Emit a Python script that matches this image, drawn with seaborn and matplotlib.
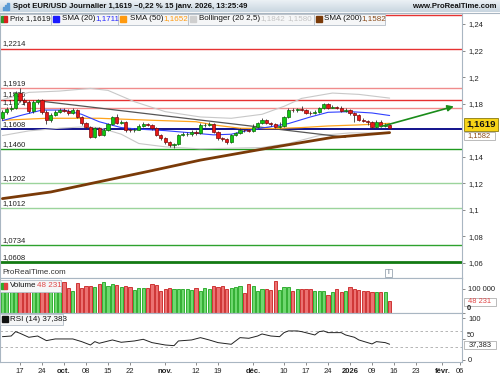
import numpy as np
import pandas as pd
import seaborn as sns
import matplotlib.pyplot as plt
from matplotlib.patches import Rectangle
from matplotlib import font_manager

# ---- data ----
# daily candles, 11 sept. 2025 -> 15 janv. 2026 (no quote on 25 dec / 1 jan)
days = pd.bdate_range("2025-09-11", "2026-01-15")
days = days[~days.isin(pd.to_datetime(["2025-12-25", "2026-01-01"]))]
future = pd.bdate_range("2026-01-16", "2026-02-10")
calendar = days.append(future)

first_open = 1.1692
closes = [1.1737, 1.1758, 1.1765, 1.1878, 1.1828, 1.1815, 1.1745, 1.1815, 1.1828, 1.1740,
          1.1677, 1.1715, 1.1740, 1.1752, 1.1745, 1.1730, 1.1752, 1.1702, 1.1652, 1.1627,
          1.1552, 1.1615, 1.1564, 1.1602, 1.1645, 1.1697, 1.1652, 1.1664, 1.1602, 1.1600,
          1.1604, 1.1634, 1.1645, 1.1643, 1.1615, 1.1564, 1.1539, 1.1514, 1.1489, 1.1494,
          1.1564, 1.1570, 1.1572, 1.1589, 1.1577, 1.1640, 1.1642, 1.1648, 1.1589, 1.1539,
          1.1532, 1.1514, 1.1564, 1.1577, 1.1602, 1.1600, 1.1595, 1.1627, 1.1652, 1.1677,
          1.1652, 1.1645, 1.1627, 1.1634, 1.1702, 1.1752, 1.1750, 1.1758, 1.1752, 1.1730,
          1.1728, 1.1740, 1.1765, 1.1795, 1.1770, 1.1777, 1.1770, 1.1745, 1.1752, 1.1727,
          1.1715, 1.1677, 1.1670, 1.1660, 1.1627, 1.1664, 1.1634, 1.1640, 1.1619]
highs = [1.1755, 1.1772, 1.1790, 1.1895, 1.1918, 1.1845, 1.1830, 1.1825, 1.1835, 1.1835,
         1.1752, 1.1730, 1.1755, 1.1768, 1.1765, 1.1760, 1.1765, 1.1760, 1.1710, 1.1665,
         1.1635, 1.1625, 1.1628, 1.1615, 1.1655, 1.1710, 1.1725, 1.1680, 1.1670, 1.1615,
         1.1615, 1.1645, 1.1665, 1.1658, 1.1650, 1.1622, 1.1575, 1.1548, 1.1522, 1.1505,
         1.1572, 1.1585, 1.1590, 1.1598, 1.1605, 1.1655, 1.1655, 1.1660, 1.1655, 1.1595,
         1.1550, 1.1540, 1.1572, 1.1590, 1.1615, 1.1612, 1.1610, 1.1648, 1.1665, 1.1690,
         1.1685, 1.1665, 1.1655, 1.1660, 1.1710, 1.1765, 1.1768, 1.1770, 1.1780, 1.1760,
         1.1745, 1.1752, 1.1775, 1.1805, 1.1802, 1.1790, 1.1785, 1.1780, 1.1765, 1.1760,
         1.1735, 1.1722, 1.1690, 1.1675, 1.1668, 1.1680, 1.1675, 1.1652, 1.1645]
lows = [1.1680, 1.1725, 1.1745, 1.1760, 1.1815, 1.1790, 1.1728, 1.1732, 1.1800, 1.1725,
        1.1650, 1.1665, 1.1705, 1.1730, 1.1735, 1.1715, 1.1720, 1.1690, 1.1640, 1.1610,
        1.1540, 1.1545, 1.1555, 1.1555, 1.1595, 1.1640, 1.1645, 1.1645, 1.1590, 1.1590,
        1.1590, 1.1598, 1.1625, 1.1630, 1.1605, 1.1555, 1.1530, 1.1500, 1.1470, 1.1468,
        1.1488, 1.1555, 1.1560, 1.1560, 1.1565, 1.1570, 1.1625, 1.1630, 1.1580, 1.1530,
        1.1520, 1.1500, 1.1505, 1.1555, 1.1570, 1.1588, 1.1585, 1.1590, 1.1620, 1.1645,
        1.1645, 1.1635, 1.1620, 1.1620, 1.1628, 1.1695, 1.1738, 1.1740, 1.1742, 1.1722,
        1.1718, 1.1720, 1.1732, 1.1760, 1.1762, 1.1765, 1.1760, 1.1738, 1.1735, 1.1715,
        1.1660, 1.1668, 1.1660, 1.1640, 1.1618, 1.1620, 1.1625, 1.1628, 1.1610]
volumes = [94.6, 97.4, 98.8, 97.4, 101.5, 100.1, 94.6, 101.5, 98.8, 108.5,
           97.4, 97.4, 101.5, 101.5, 126.5, 101.5, 91.8, 125.1, 101.5, 112.6,
           112.6, 105.7, 118.2, 126.5, 112.6, 118.2, 115.4, 105.7, 112.6, 105.7,
           94.6, 101.5, 104.3, 101.5, 118.2, 115.4, 91.8, 97.4, 101.5, 97.4,
           97.4, 97.4, 97.4, 94.6, 101.5, 90.4, 101.5, 97.4, 111.3, 108.5,
           111.3, 97.4, 101.5, 108.5, 111.3, 80.7, 119.6, 111.3, 91.8, 97.4,
           97.4, 94.6, 132.1, 94.6, 105.7, 105.7, 91.8, 97.4, 98.8, 97.4,
           97.4, 91.8, 90.4, 91.8, 73.8, 84.9, 98.8, 87.6, 91.8, 108.5,
           98.8, 94.6, 90.4, 90.4, 84.9, 84.9, 84.9, 84.9, 48.231]  # thousands

# indicator lines (bar index, value)
sma20_x = [0, 4, 9, 14, 18, 22, 27, 31, 37, 43, 48, 52, 56, 61, 65, 70, 74, 79, 84, 88]
sma20_y = [1.1672, 1.1710, 1.1752, 1.1752, 1.1720, 1.1664, 1.1620, 1.1608, 1.1597, 1.1580,
           1.1565, 1.1570, 1.1600, 1.1627, 1.1650, 1.1700, 1.1735, 1.1740, 1.1730, 1.1711]
sma50_x = [0, 10, 22, 34, 44, 48, 54, 61, 68, 74, 81, 88]
sma50_y = [1.1675, 1.1690, 1.1690, 1.1675, 1.1664, 1.1640, 1.1615, 1.1612, 1.1620, 1.1632,
           1.1640, 1.1652]
sma200_x = [0, 11, 22, 34, 45, 60, 75, 88]
sma200_y = [1.1085, 1.1135, 1.1212, 1.1296, 1.1375, 1.1463, 1.1546, 1.1582]
boll_up_x = [0, 6, 13, 20, 24, 30, 37, 45, 52, 59, 64, 68, 75, 81, 88]
boll_up_y = [1.1830, 1.1885, 1.1895, 1.1915, 1.1900, 1.1815, 1.1740, 1.1700, 1.1690, 1.1720,
             1.1780, 1.1840, 1.1880, 1.1870, 1.1842]
boll_lo_x = [0, 6, 13, 18, 22, 27, 31, 37, 45, 52, 59, 65, 72, 79, 88]
boll_lo_y = [1.1560, 1.1595, 1.1615, 1.1625, 1.1620, 1.1570, 1.1500, 1.1475, 1.1460, 1.1465,
             1.1470, 1.1500, 1.1560, 1.1580, 1.1580]
rsi_x = [0, 2, 3, 4, 6, 8, 10, 12, 16, 18, 20, 21, 22, 25, 27, 30, 32, 34, 37, 39, 40, 43,
         45, 47, 49, 52, 54, 56, 58, 59, 61, 63, 64, 65, 67, 68, 71, 72, 73, 74, 77, 78, 80,
         81, 84, 85, 87, 88]
rsi_y = [55.6, 57.2, 67.7, 63.7, 54.1, 57.2, 46.1, 50.1, 50.1, 43.7, 35.6, 43.7, 39.7, 47.7,
         42.1, 45.3, 49.3, 41.3, 35.6, 34.0, 45.3, 47.7, 53.3, 47.7, 41.3, 37.3, 53.3, 51.7,
         57.2, 62.1, 57.2, 55.6, 65.3, 69.4, 69.4, 67.7, 59.7, 67.7, 69.4, 65.3, 65.3, 59.7,
         54.1, 47.7, 38.1, 43.7, 41.3, 37.4]

trend_x = [8, 78]
trend_y = [1.1822, 1.1547]
arrow_from = (85.4, 1.1622)
arrow_to = (103.2, 1.1785)

levels = [1.2466, 1.2214, 1.1919, 1.1830, 1.1771, 1.1608, 1.1460, 1.1202, 1.1012, 1.0734, 1.0608]
level_colors = ["#e63232", "#e63232", "#f08c8c", "#e63232", "#f08c8c", "#12128c",
                "#1f9a1f", "#9cd49c", "#9cd49c", "#2ea22e", "#137a13"]

tick_dates = ["2025-09-17", "2025-09-24", "2025-10-01", "2025-10-08", "2025-10-15",
              "2025-10-22", "2025-11-03", "2025-11-12", "2025-11-19", "2025-12-01",
              "2025-12-10", "2025-12-17", "2025-12-24", "2026-01-02", "2026-01-09",
              "2026-01-16", "2026-01-23", "2026-02-02", "2026-02-06"]
tick_labels = ["17", "24", "oct.", "08", "15", "22", "nov.", "12", "19", "déc.",
               "10", "17", "24", "2026", "09", "16", "23", "févr.", "06"]
bold_ticks = {"oct.", "nov.", "déc.", "2026", "févr."}

# ---- style ----
sns.set_theme(style="white")
names = {f.name for f in font_manager.fontManager.ttflist}
FONT = "Liberation Sans Narrow" if "Liberation Sans Narrow" in names else "Liberation Sans"
plt.rcParams["font.family"] = [FONT, "DejaVu Sans"]

W, H = 500, 375
fig = plt.figure(figsize=(5, 3.75), dpi=100)


def rect(x0, y0, x1, y1):
    return [x0 / W, 1 - y1 / H, (x1 - x0) / W, (y1 - y0) / H]


ax = fig.add_axes(rect(0, 13, 462, 278))
axv = fig.add_axes(rect(0, 278, 462, 313), sharex=ax)
axr = fig.add_axes(rect(0, 313, 462, 362), sharex=ax)

n = len(closes)
idx = np.arange(n)
opens = [first_open] + closes[:-1]
up = [c >= o for o, c in zip(opens, closes)]

# ---- price panel ----
for lv, col in zip(levels, level_colors):
    lw = 2.0 if lv == 1.0608 else (1.4 if lv == 1.1608 else 1.0)
    ax.axhline(lv, color=col, lw=lw, zorder=1)
    if lv < 1.24:
        ax.text(0.006, lv + 0.0009, f"{lv:.4f}".replace(".", ","), transform=ax.get_yaxis_transform(),
                fontsize=5.5, color="#222222", va="bottom", ha="left", zorder=2)

sns.lineplot(x=boll_up_x, y=boll_up_y, ax=ax, color="#c8c8c8", lw=0.8, zorder=2)
sns.lineplot(x=boll_lo_x, y=boll_lo_y, ax=ax, color="#c8c8c8", lw=0.8, zorder=2)
sns.lineplot(x=trend_x, y=trend_y, ax=ax, color="#555555", lw=0.9, zorder=2)
sns.lineplot(x=sma50_x, y=sma50_y, ax=ax, color="#ffa41c", lw=0.9, zorder=3)
sns.lineplot(x=sma20_x, y=sma20_y, ax=ax, color="#3040ff", lw=0.8, zorder=3)
sns.lineplot(x=sma200_x, y=sma200_y, ax=ax, color="#7a3a08", lw=2.0, zorder=3)

ax.vlines(idx, lows, highs, color="#333333", lw=0.6, zorder=4)
body_lo = [min(o, c) for o, c in zip(opens, closes)]
body_h = [max(abs(c - o), 0.0003) for o, c in zip(opens, closes)]
ax.bar(idx, body_h, bottom=body_lo, width=0.75,
       color=["#12c812" if u else "#e81818" for u in up],
       edgecolor=["#0a6a0a" if u else "#7a0a0a" for u in up], lw=0.5, zorder=5)

ax.annotate("", xy=arrow_to, xytext=arrow_from,
            arrowprops=dict(arrowstyle="-|>", color="#1a8c1a", lw=1.2, mutation_scale=9), zorder=6)

ax.set_xlim(-0.55, 104.45)
ax.set_ylim(1.0487, 1.2483)
yt = [1.06, 1.08, 1.10, 1.12, 1.14, 1.18, 1.20, 1.22, 1.24]
ax.set_yticks(yt)
ax.set_yticklabels([f"{v:.2f}".rstrip("0").replace(".", ",") for v in yt])
for lab in ax.get_yticklabels():
    if lab.get_text() in ("1,2", "1,1"):
        lab.set_fontweight("bold")

# ---- volume panel ----
axv.bar(idx, [v * 1000 for v in volumes], width=0.72,
        color=["#6fd86f" if u else "#ec7272" for u in up],
        edgecolor=["#1da51d" if u else "#c82020" for u in up], lw=0.6)
axv.set_ylim(0, 144600)
axv.set_yticks([0, 100000])
axv.set_yticklabels(["", "100 000"])

# ---- RSI panel ----
axr.axhline(70, color="#aaaaaa", lw=0.6, ls=(0, (3, 3)))
axr.axhline(30, color="#aaaaaa", lw=0.6, ls=(0, (3, 3)))
sns.lineplot(x=rsi_x, y=rsi_y, ax=axr, color="#222222", lw=0.7)
axr.set_ylim(-5.3, 112.5)
axr.set_yticks([0, 50, 100])
axr.set_yticklabels(["0", "", "100"])
for lab in axr.get_yticklabels():
    lab.set_fontweight("bold")

ticks = calendar.get_indexer(pd.to_datetime(tick_dates))
axr.set_xticks(ticks)
axr.set_xticklabels(tick_labels)
for lab in axr.get_xticklabels():
    if lab.get_text() in bold_ticks:
        lab.set_fontweight("bold")

for a in (ax, axv, axr):
    a.yaxis.tick_right()
    a.tick_params(axis="y", right=True, length=2.5, width=0.6, color="#777777",
                  labelsize=5.5, pad=2, labelcolor="#222222")
    a.set_xlabel("")
    a.set_ylabel("")
    for s in a.spines.values():
        s.set_color("#a9b6c2")
        s.set_linewidth(0.8)
for a in (ax, axv):
    a.tick_params(axis="x", bottom=False, labelbottom=False)
axr.tick_params(axis="x", bottom=True, length=2.5, width=0.6, color="#777777",
                labelsize=5.5, pad=1.5, labelcolor="#222222")

# ---- overlay: header, legends, price tags ----
ov = fig.add_axes([0, 0, 1, 1], zorder=10)
ov.set_xlim(0, W)
ov.set_ylim(H, 0)
ov.axis("off")
ov.patch.set_visible(False)

grad = np.linspace(0, 1, 20).reshape(-1, 1)
ov.imshow(grad, extent=(0, W, 12.5, 0), cmap=plt.matplotlib.colors.LinearSegmentedColormap.from_list(
    "hdr", ["#eef3f7", "#c9d6e0"]), aspect="auto", zorder=0)
ov.plot([0, W], [12.5, 12.5], color="#a9b6c2", lw=0.8)
for k, hgt in enumerate([3, 5, 7]):
    ov.add_patch(Rectangle((2.5 + k * 2.4, 10 - hgt), 1.6, hgt, color="#5a9bd5"))
ov.text(13, 6.5, "Spot EUR/USD Journalier 1,1619 \u22120,22 % 15 janv. 2026, 13:25:49",
        fontsize=5.6, fontweight="bold", color="#111111", va="center")
ov.text(497, 6.5, "www.ProRealTime.com", fontsize=5.6, fontweight="bold", color="#111111",
        va="center", ha="right")


def box(x0, y0, x1, y1, fc="#f5f6f7", ec="#b4bec8"):
    ov.add_patch(Rectangle((x0, y0), x1 - x0, y1 - y0, fc=fc, ec=ec, lw=0.6))


def swatch(x, y, col):
    ov.add_patch(Rectangle((x, y - 3.2), 6, 6.4, color=col))


def txt(x, y, s, col="#111111", size=5.8, **kw):
    ov.text(x, y, s, fontsize=size, color=col, va="center", **kw)


ly = 19
box(0, 13.5, 51, 24.5)
ov.add_patch(Rectangle((1, 15.8), 3, 6.4, color="#2a9a2a"))
ov.add_patch(Rectangle((4, 15.8), 3, 6.4, color="#d82020"))
txt(9.5, ly, "Prix 1,1619")
box(51, 13.5, 118, 24.5)
swatch(53, ly, "#1a1aff")
txt(62, ly, "SMA (20)")
txt(95, ly, "1,1711", "#2a2aff")
box(118, 13.5, 188, 24.5)
swatch(120, ly, "#ff9a10")
txt(130, ly, "SMA (50)")
txt(163, ly, "1,1652", "#ff9a10")
box(188, 13.5, 314, 24.5)
swatch(190, ly, "#cfcfcf")
txt(199, ly, "Bollinger (20 2,5)")
txt(260, ly, "1,1842", "#c4c4c4")
txt(287, ly, "1,1580", "#c4c4c4")
box(314, 13.5, 385, 24.5)
swatch(316, ly, "#7a3a08")
txt(324, ly, "SMA (200)")
txt(361, ly, "1,1582", "#8a4a18")

txt(2, 273, "ProRealTime.com", "#333333")
box(385, 268.5, 392, 276.5, fc="white", ec="#9aa6b2")
txt(388.5, 272.5, "i", "#667788", ha="center")

box(0, 280, 61, 291.5)
ov.add_patch(Rectangle((1, 282.5), 3, 6.4, color="#2ab02a"))
ov.add_patch(Rectangle((4, 282.5), 3, 6.4, color="#e04040"))
txt(9.5, 285.7, "Volume")
txt(37, 285.7, "48 231", "#e04848")

box(0, 314, 63, 324.5)
swatch(2, 319.2, "#111111")
txt(10, 319.2, "RSI (14) 37,383")

# right-scale labels squeezed between the panels
txt(466.5, 308.3, "0", "#222222", size=5.5, fontweight="bold")
txt(466.5, 335.8, "50", "#222222", size=5.3)

# price tags on the right scale
box(464, 118, 498, 130.5, fc="#f7d417", ec="#8a7a10")
ov.text(481, 124.3, "1,1619", fontsize=6.8, fontweight="bold", color="#111111", va="center", ha="center")
box(464, 131.5, 495, 139.5, fc="white", ec="#b0b0b0")
txt(479.5, 135.6, "1,1582", "#8a4a18", size=5.4, ha="center")
box(464, 297.5, 496, 305.5, fc="white", ec="#b0b0b0")
txt(480, 301.5, "48 231", "#e04848", size=5.4, ha="center")
box(464, 340.5, 496, 348.5, fc="white", ec="#b0b0b0")
txt(480, 344.5, "37,383", "#222222", size=5.4, ha="center")

fig.savefig("out.png", dpi=100)
